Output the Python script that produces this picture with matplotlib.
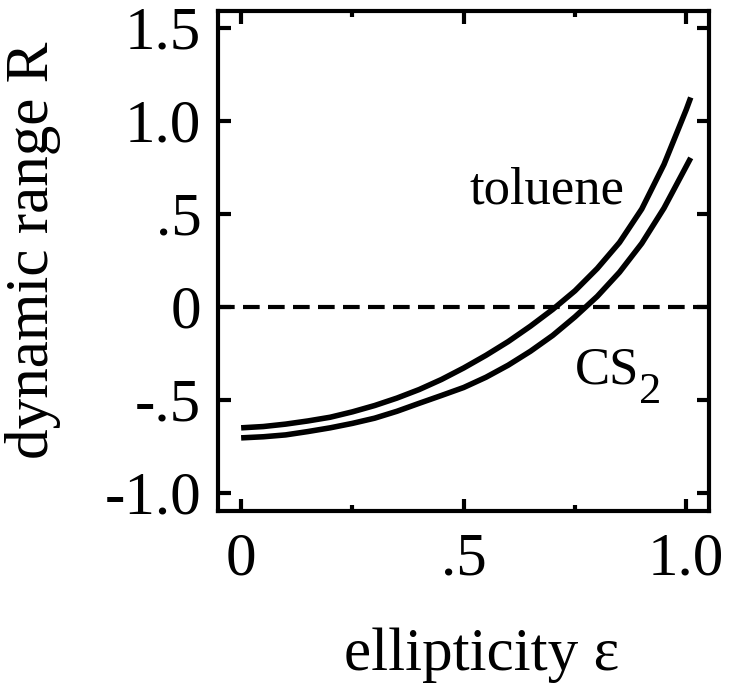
import matplotlib
matplotlib.use("Agg")
import matplotlib.pyplot as plt
from matplotlib.ticker import FixedLocator

plt.rcParams['font.family'] = ['Liberation Serif', 'DejaVu Serif']

# values
eps = [0.0, 0.05, 0.1, 0.15, 0.2, 0.25, 0.3, 0.35, 0.4, 0.45, 0.5, 0.55, 0.6,
       0.65, 0.7, 0.75, 0.8, 0.85, 0.9, 0.95, 1.0, 1.01]
r_toluene = [-0.652, -0.645, -0.632, -0.615, -0.595, -0.566, -0.532, -0.492,
             -0.446, -0.392, -0.33, -0.262, -0.188, -0.105, -0.015, 0.085,
             0.205, 0.345, 0.525, 0.765, 1.06, 1.125]
r_cs2 = [-0.706, -0.70, -0.69, -0.672, -0.652, -0.628, -0.60, -0.563, -0.52,
         -0.478, -0.435, -0.38, -0.315, -0.24, -0.155, -0.055, 0.055, 0.185,
         0.34, 0.53, 0.755, 0.80]

x_ticks = [0, 0.5, 1.0]
x_ticklabels = ['0', '.5', '1.0']
y_ticks = [-1.0, -0.5, 0, 0.5, 1.0, 1.5]
y_ticklabels = ['-1.0', '-.5', '0', '.5', '1.0', '1.5']

fig = plt.figure(figsize=(7.30, 6.87), dpi=100)
ax = fig.add_axes([0.2986, 0.256, 0.672, 0.728])

ax.plot(eps, r_toluene, color='black', lw=4, solid_capstyle='butt')
ax.plot(eps, r_cs2, color='black', lw=4, solid_capstyle='butt')
ax.axhline(0, color='black', lw=3, dashes=(4, 2))

ax.set_xlim(-0.052, 1.05)
ax.set_ylim(-1.1, 1.59)

ax.set_xticks(x_ticks)
ax.set_xticklabels(x_ticklabels)
ax.xaxis.set_minor_locator(FixedLocator([0.25, 0.75]))
ax.set_yticks(y_ticks)
ax.set_yticklabels(y_ticklabels)

ax.tick_params(which='both', direction='in', top=True, right=True, width=3)
ax.tick_params(which='major', length=9, labelsize=44)
ax.tick_params(which='minor', length=4.5)
ax.tick_params(axis='x', pad=15)
ax.tick_params(axis='y', pad=12)

for sp in ax.spines.values():
    sp.set_linewidth(3)

# axis titles placed in figure pixels to match the reference
fig.text(482 / 730, 1 - 670 / 687, 'ellipticity ε', fontsize=44,
         ha='center', va='baseline')
fig.text(33 / 730, 1 - 250 / 687, 'dynamic range R', fontsize=44,
         ha='center', va='center', rotation=90)

ax.text(0.686, 0.555, 'toluene', fontsize=38, ha='center', va='baseline')
# CS with a lowered subscript 2, as in the reference
ax.text(0.749, -0.415, 'CS', fontsize=38, ha='left', va='baseline')
ax.text(0.893, -0.52, '2', fontsize=32, ha='left', va='baseline')

fig.savefig('out.png', dpi=100)
